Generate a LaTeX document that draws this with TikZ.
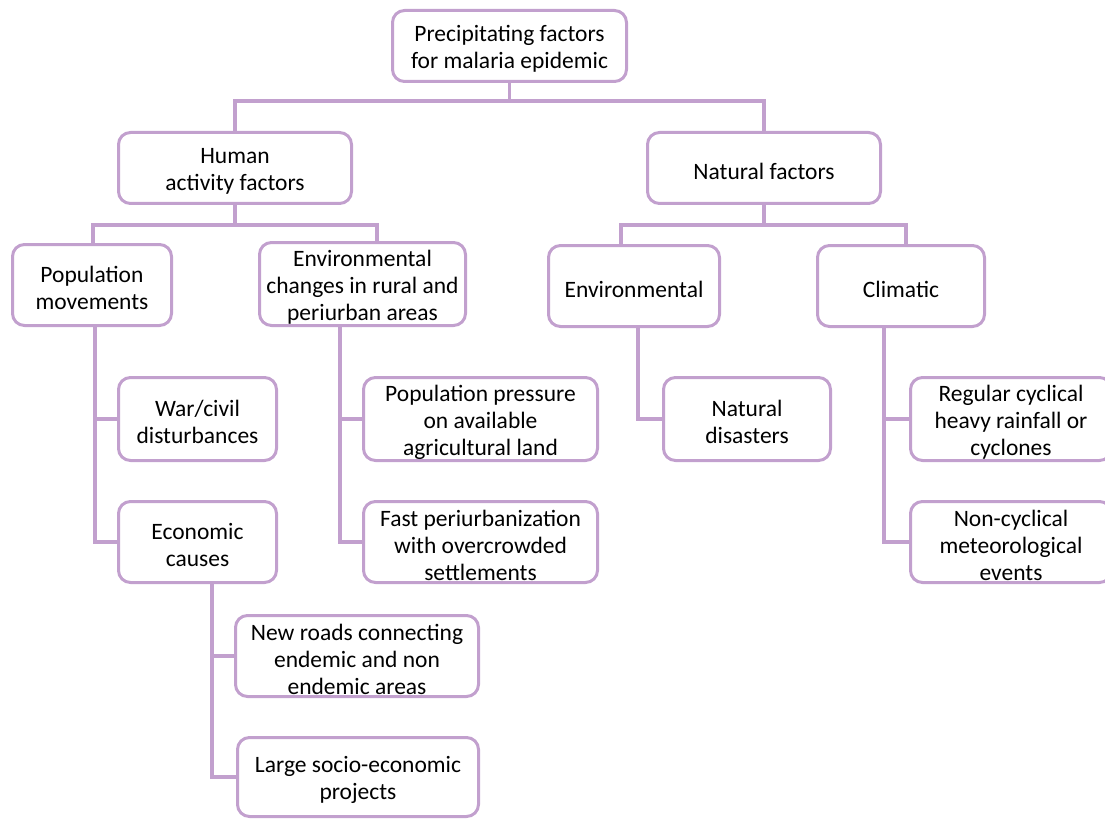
\documentclass[tikz,border=0pt]{standalone}
\usepackage{fontspec}
\setmainfont{Carlito}
\definecolor{pur}{RGB}{194,160,206}
\tikzset{
  box/.style={draw=pur, line width=3pt, rounded corners=12pt, fill=white, inner sep=0pt},
  boxtext/.style={align=center, inner sep=0pt, yshift=-3pt, font=\fontsize{23.5}{27}\selectfont},
  conn/.style={draw=pur, line width=3.5pt}
}
\newcommand{\bx}[6]{\node[box, minimum width=#4pt, minimum height=#5pt,
  label={[boxtext]center:{#6}}] (#1) at (#2,#3) {};}
\begin{document}
\begin{tikzpicture}[x=1pt,y=-1pt]
\useasboundingbox (0,0) rectangle (1105,821);
\clip (0,0) rectangle (1105,821);
\bx{root}{509.5}{46}{234}{71}{Precipitating factors\\for malaria epidemic}
\bx{human}{235}{168}{233}{71}{Human\\activity factors}
\bx{natural}{764}{168}{233}{71}{Natural factors}
\bx{popmov}{92}{285}{159}{81}{Population\\movements}
\bx{envch}{362.5}{284}{206}{83}{Environmental\\changes in rural and\\periurban areas}
\bx{env}{634}{286}{171}{81}{Environmental}
\bx{clim}{901}{286}{167}{81}{Climatic}
\bx{war}{197.5}{419}{158}{83}{War/civil\\disturbances}
\bx{econ}{197.5}{542}{158}{81}{Economic\\causes}
\bx{poppress}{480.5}{419}{234}{83}{Population pressure\\on available\\agricultural land}
\bx{fast}{480.5}{542}{234}{81}{Fast periurbanization\\with overcrowded\\settlements}
\bx{natdis}{747}{419}{167}{83}{Natural\\disasters}
\bx{regular}{1011}{419}{201}{83}{Regular cyclical\\heavy rainfall or\\cyclones}
\bx{noncyc}{1011}{542}{201}{81}{Non-cyclical\\meteorological\\events}
\bx{roads}{357}{656}{243}{81}{New roads connecting\\endemic and non\\endemic areas}
\bx{large}{358}{777}{241}{79}{Large socio-economic\\projects}
% tree connectors
\draw[conn] (root.south) -- ++(0,18) -| (human.north);
\draw[conn] (root.south) -- ++(0,18) -| (natural.north);
\draw[conn] (human.south) -- ++(0,20) -| ([xshift=1pt]popmov.north);
\draw[conn] (human.south) -- ++(0,20) -| ([xshift=14.5pt]envch.north);
\draw[conn] (natural.south) -- ++(0,20) -| ([xshift=-13pt]env.north);
\draw[conn] (natural.south) -- ++(0,20) -| ([xshift=5pt]clim.north);
% side connectors
\draw[conn] ([xshift=3pt]popmov.south) |- (war.west);
\draw[conn] ([xshift=3pt]popmov.south) |- (econ.west);
\draw[conn] ([xshift=-22.5pt]envch.south) |- (poppress.west);
\draw[conn] ([xshift=-22.5pt]envch.south) |- (fast.west);
\draw[conn] ([xshift=4pt]env.south) |- (natdis.west);
\draw[conn] ([xshift=-17pt]clim.south) |- (regular.west);
\draw[conn] ([xshift=-17pt]clim.south) |- (noncyc.west);
\draw[conn] ([xshift=14.5pt]econ.south) |- (roads.west);
\draw[conn] ([xshift=14.5pt]econ.south) |- (large.west);
\end{tikzpicture}
\end{document}
